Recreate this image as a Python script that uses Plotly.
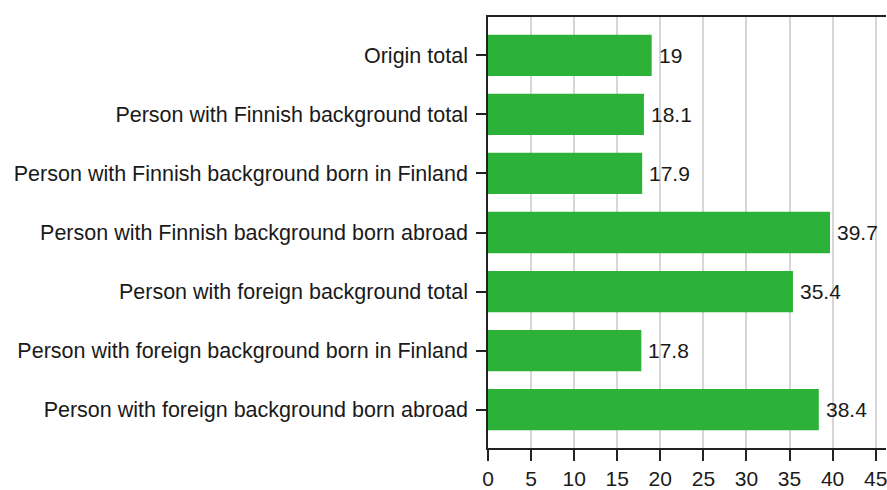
import plotly.graph_objects as go

categories = [
    "Origin total",
    "Person with Finnish background total",
    "Person with Finnish background born in Finland",
    "Person with Finnish background born abroad",
    "Person with foreign background total",
    "Person with foreign background born in Finland",
    "Person with foreign background born abroad",
]
values = [19, 18.1, 17.9, 39.7, 35.4, 17.8, 38.4]
x_ticks = [0, 5, 10, 15, 20, 25, 30, 35, 40, 45]

font_family = "Liberation Sans, Arial, sans-serif"
text_color = "#1a1a1a"

fig = go.Figure(
    go.Bar(
        y=categories,
        x=values,
        orientation="h",
        width=0.7,
        marker=dict(color="#2db239", line=dict(width=0)),
        hoverinfo="skip",
    )
)

for c, v in zip(categories, values):
    fig.add_annotation(
        x=v, y=c, text=f"{v:g}", showarrow=False,
        xanchor="left", yanchor="middle", xshift=5,
        font=dict(family=font_family, size=21, color=text_color),
    )

fig.update_layout(
    width=887, height=490,
    margin=dict(l=488, r=0, t=17, b=39),
    paper_bgcolor="white", plot_bgcolor="white",
    showlegend=False,
    font=dict(family=font_family, size=21.5, color=text_color),
    xaxis=dict(
        range=[0, 46.2],
        tickvals=x_ticks,
        tickfont=dict(size=21),
        ticklabeloverflow="allow",
        showgrid=True, gridcolor="#d6d6d6", gridwidth=1.5,
        showline=True, linecolor="#222222", linewidth=1.5, mirror=True,
        ticks="outside", ticklen=11, tickwidth=1.5, tickcolor="#222222",
        ticklabelstandoff=0,
        zeroline=False, fixedrange=True,
    ),
    yaxis=dict(
        range=[6.65, -0.65],
        categoryorder="array", categoryarray=categories,
        showgrid=False,
        showline=True, linecolor="#222222", linewidth=1.5,
        ticks="outside", ticklen=10, tickwidth=1.5, tickcolor="#222222",
        ticklabelstandoff=4,
        zeroline=False, fixedrange=True,
    ),
)

fig.write_html(
    "out.html",
    config={"displayModeBar": False},
    post_script="document.body.style.margin='0';document.body.style.overflow='hidden';",
)
